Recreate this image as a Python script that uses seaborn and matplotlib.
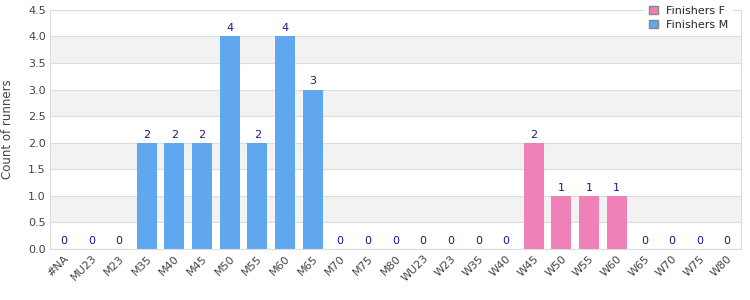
import matplotlib
matplotlib.use("Agg")
import matplotlib.pyplot as plt
import seaborn as sns
import pandas as pd
import numpy as np
from matplotlib.patches import Patch

categories = ["#NA", "MU23", "M23", "M35", "M40", "M45", "M50", "M55", "M60", "M65",
              "M70", "M75", "M80", "WU23", "W23", "W35", "W40", "W45", "W50", "W55",
              "W60", "W65", "W70", "W75", "W80"]
finishers_m = [0, 0, 0, 2, 2, 2, 4, 2, 4, 3, 0, 0, 0, 0, 0, 0, 0, 0, 0, 0, 0, 0, 0, 0, 0]
finishers_f = [0, 0, 0, 0, 0, 0, 0, 0, 0, 0, 0, 0, 0, 0, 0, 0, 0, 2, 1, 1, 1, 0, 0, 0, 0]
yticks = [0.0, 0.5, 1.0, 1.5, 2.0, 2.5, 3.0, 3.5, 4.0, 4.5]

col_m = "#5fa8f0"
col_f = "#f080b8"

sns.set_style("white")
plt.rcParams['font.family'] = ['DejaVu Sans']

df = pd.DataFrame({"cat": categories, "M": finishers_m, "F": finishers_f})

fig = plt.figure(figsize=(7.5, 3.0), dpi=100)
ax = fig.add_axes([0.0667, 0.17, 0.9213, 0.797])

# alternating bands
for i in range(len(yticks) - 1):
    if i % 2 == 1:
        ax.axhspan(yticks[i], yticks[i + 1], color="#f2f2f2", zorder=0, lw=0)
for t in yticks:
    ax.axhline(t, color="#dddddd", lw=0.8, zorder=0.5)

sns.barplot(data=df, x="cat", y="M", color=col_m, width=0.72, ax=ax, zorder=2,
            saturation=1, order=categories, linewidth=0, edgecolor="none")
sns.barplot(data=df, x="cat", y="F", color=col_f, width=0.72, ax=ax, zorder=2,
            saturation=1, order=categories, bottom=df["M"], linewidth=0, edgecolor="none")

totals = np.array(finishers_m) + np.array(finishers_f)
for i, t in enumerate(totals):
    ax.text(i, t + 0.06, f"{t}", ha="center", va="bottom", fontsize=8, color="#1a1a80")

ax.set_ylim(0, 4.5)
ax.set_xlim(-0.5, len(categories) - 0.5)
ax.set_yticks(yticks)
ax.set_yticklabels([f"{t:.1f}" for t in yticks], fontsize=8, color="#444444")
ax.set_xticks(range(len(categories)))
ax.set_xticklabels(categories, rotation=45, ha="right", rotation_mode="anchor",
                   fontsize=8, color="#444444")
ax.tick_params(axis="both", length=0, pad=3)
ax.set_xlabel("")
ax.set_ylabel("Count of runners", fontsize=8.5, color="#444444", labelpad=10)
for s in ax.spines.values():
    s.set_color("#dddddd")
    s.set_linewidth(0.8)

handles = [Patch(facecolor=col_f, edgecolor="#888888", label="Finishers F"),
           Patch(facecolor=col_m, edgecolor="#888888", label="Finishers M")]
leg = ax.legend(handles=handles, loc="upper right", bbox_to_anchor=(0.995, 1.055),
                frameon=True, fontsize=8, handlelength=0.8, handleheight=0.8,
                borderpad=0.3, labelspacing=0.35, handletextpad=0.8)
leg.get_frame().set_edgecolor("white")
leg.get_frame().set_facecolor("white")
leg.get_frame().set_alpha(1)
leg.get_frame().set_boxstyle("square", pad=0)
leg.set_zorder(5)

fig.savefig("out.png", dpi=100)
